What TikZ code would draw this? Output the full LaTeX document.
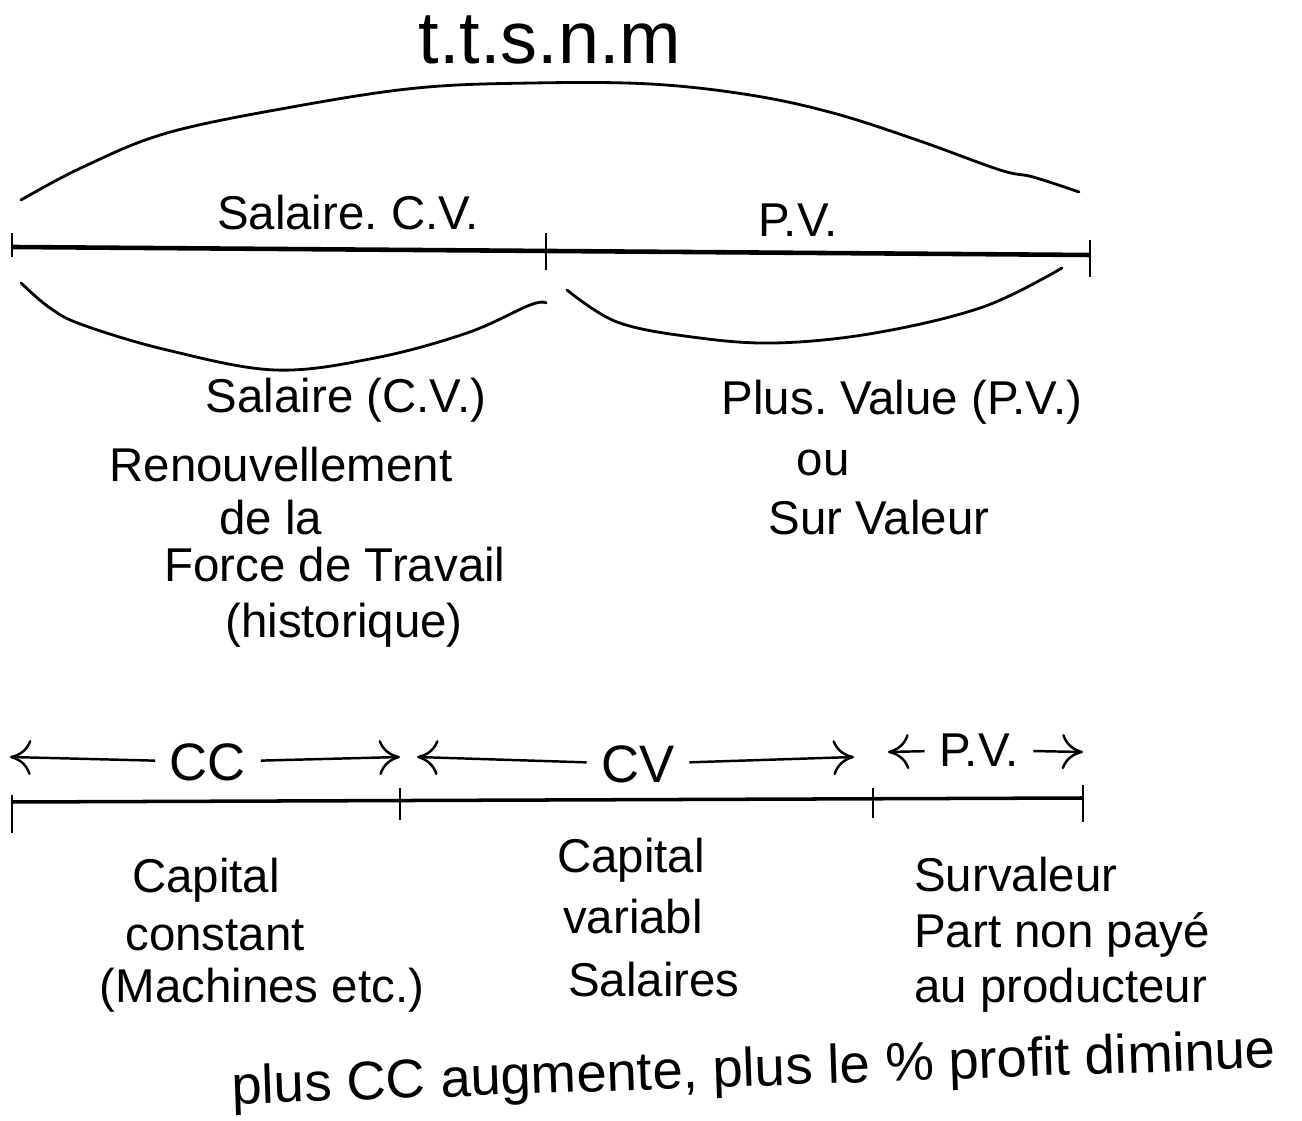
\documentclass[tikz,border=0pt]{standalone}
\usepackage{fontspec}
\setmainfont{Liberation Sans}
\usetikzlibrary{arrows.meta}
\frenchspacing

\begin{document}
\begin{tikzpicture}[
    txt/.style={font=\fontsize{13.5}{16}\selectfont, inner sep=1pt},
    bigtxt/.style={font=\fontsize{21}{25}\selectfont},
    seglbl/.style={font=\fontsize{15}{18}\selectfont, inner sep=4pt},
    arc/.style={line width=0.8pt, line cap=round},
    bar/.style={line width=1.3pt},
    tick/.style={line width=0.7pt},
    dimarrow/.style={line width=0.7pt, -{To[length=6pt,width=10pt]}}
  ]

\useasboundingbox (0,0) rectangle (13.02,11.20);

% ── TITLE + BIG ARC OVER THE WHOLE DAY ──────────────────────────────────
\node[bigtxt] (titre) at (5.50, 10.80) {t.t.s.n.m};

\draw[arc] plot[smooth, tension=0.6] coordinates {
  (0.21,9.20) (0.83,9.53) (1.67,9.87) (2.92,10.13) (4.17,10.32) (5.33,10.37)
  (6.50,10.36) (7.50,10.25) (8.33,10.07) (9.17,9.80) (10.00,9.50) (10.33,9.43)
  (10.79,9.28)};

% ── UPPER SEGMENT (salaire | plus-value) ────────────────────────────────
\draw[bar] (0.12, 8.73) -- (10.90, 8.65);
\draw[tick] (0.12, 8.87) -- (0.12, 8.63);
\draw[tick] (5.46, 8.87) -- (5.46, 8.50);
\draw[tick] (10.90, 8.80) -- (10.90, 8.43);

\node[txt] (salcv) at (3.48, 9.07) {Salaire. C.V.};
\node[txt] (pvhaut) at (7.98, 9.00) {P.V.};

% braces under the two parts
\draw[arc] plot[smooth, tension=0.6] coordinates {
  (0.21,8.37) (0.50,8.12) (0.83,7.95) (1.67,7.70) (2.75,7.50) (3.75,7.62)
  (4.67,7.87) (5.30,8.15) (5.46,8.17)};
\draw[arc] plot[smooth, tension=0.6] coordinates {
  (5.67,8.30) (6.17,7.98) (6.92,7.83) (7.75,7.77) (8.75,7.87) (9.83,8.13)
  (10.62,8.52)};

% ── LEFT TEXT (salaire) ─────────────────────────────────────────────────
\node[txt] (sal) at (3.46, 7.20) {Salaire (C.V.)};
\node[txt] (renouv) at (2.81, 6.55) {Renouvellement};
\node[txt] (dela) at (2.71, 6.02) {de la};
\node[txt] (force) at (3.35, 5.55) {Force de Travail};
\node[txt] (histo) at (3.44, 4.95) {(historique)};

% ── RIGHT TEXT (plus-value) ─────────────────────────────────────────────
\node[txt] (plusv) at (9.02, 7.18) {Plus. Value (P.V.)};
\node[txt] (ou) at (8.23, 6.57) {ou};
\node[txt] (surv) at (8.79, 6.02) {Sur Valeur};

% ── LOWER SEGMENT (CC | CV | PV) ────────────────────────────────────────
\coordinate (ccL) at (0.10, 3.63);
\coordinate (ccR) at (4.00, 3.63);
\coordinate (cvL) at (4.17, 3.63);
\coordinate (cvR) at (8.54, 3.63);
\coordinate (pvL) at (8.88, 3.68);
\coordinate (pvR) at (10.83, 3.68);

\node[seglbl] (cc) at (2.08, 3.58) {CC};
\node[seglbl] (cv) at (6.38, 3.56) {CV};
\node[txt, inner sep=4pt] (pvbas) at (9.79, 3.70) {P.V.};

\draw[dimarrow] (cc) -- (ccL);
\draw[dimarrow] (cc) -- (ccR);
\draw[dimarrow] (cv) -- (cvL);
\draw[dimarrow] (cv) -- (cvR);
\draw[dimarrow] (pvbas) -- (pvL);
\draw[dimarrow] (pvbas) -- (pvR);

\draw[line width=1pt] (0.12, 3.18) -- (10.83, 3.22);
\draw[tick] (0.12, 3.25) -- (0.12, 2.87);
\draw[tick] (4.00, 3.32) -- (4.00, 3.00);
\draw[tick] (8.73, 3.32) -- (8.73, 3.02);
\draw[tick] (10.83, 3.35) -- (10.83, 2.98);

% ── TEXT UNDER THE LOWER SEGMENT ────────────────────────────────────────
\node[txt] (capc1) at (2.06, 2.40) {Capital};
\node[txt] (capc2) at (2.15, 1.85) {constant};
\node[txt] (capc3) at (2.62, 1.30) {(Machines etc.)};

\node[txt] (capv1) at (6.31, 2.60) {Capital};
\node[txt] (capv2) at (6.33, 2.03) {variabl};
\node[txt] (capv3) at (6.54, 1.40) {Salaires};

\node[txt, anchor=west] (surv1) at (9.10, 2.45) {Survaleur};
\node[txt, anchor=west] (surv2) at (9.10, 1.85) {Part non payé};
\node[txt, anchor=west] (surv3) at (9.10, 1.30) {au producteur};

\node[txt, font=\fontsize{15.5}{18}\selectfont, rotate=2] (concl) at (7.54, 0.48)
  {plus CC augmente, plus le \% profit diminue};

\end{tikzpicture}
\end{document}
